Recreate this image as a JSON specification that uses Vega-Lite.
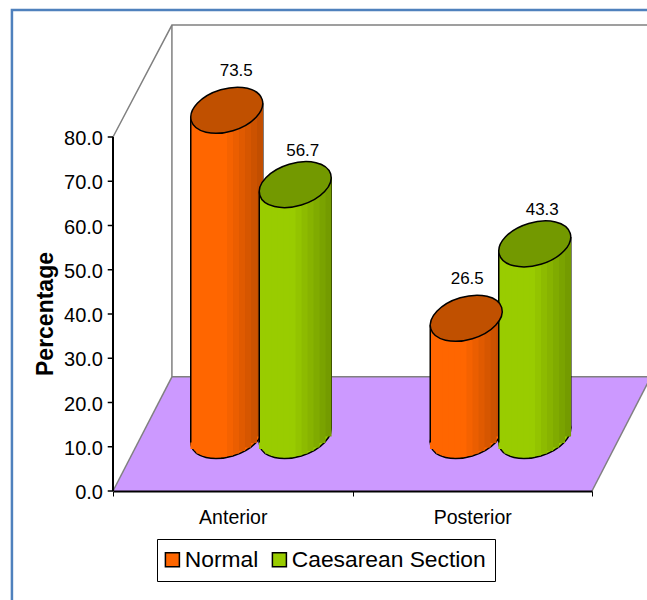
{
"$schema":"https://vega.github.io/schema/vega-lite/v6.json",
"width":479,"height":354,
"autosize":{"type":"none"},
"padding":{"left":113,"top":137,"right":55,"bottom":109},
"background":"white",
"config":{"view":{"stroke":null},"font":"Liberation Sans"},
"datasets":{
"bars":[
{"category":"Anterior","series":"Normal","value":73.5},
{"category":"Anterior","series":"Caesarean Section","value":56.7},
{"category":"Posterior","series":"Normal","value":26.5},
{"category":"Posterior","series":"Caesarean Section","value":43.3}],
"floor":[{"x":0,"y0":0,"y1":0},{"x":12.3,"y0":0,"y1":25.8},{"x":100,"y0":0,"y1":25.8},{"x":112.3,"y0":25.8,"y1":25.8}],
"walls":[
{"p":"a","x":0,"y":80},{"p":"a","x":12.3,"y":105.3},{"p":"a","x":112.3,"y":105.3},
{"p":"b","x":12.3,"y":105.3},{"p":"b","x":12.3,"y":25.8},{"p":"b","x":112.3,"y":25.8},
{"p":"c","x":0,"y":0},{"p":"c","x":12.3,"y":25.8},
{"p":"d","x":100,"y":0},{"p":"d","x":112.3,"y":25.8}],
"frame":[{"x":-21.1,"y":-25},{"x":-21.1,"y":108.7},{"x":112.3,"y":108.7}],
"ticks":[{"tick":0},{"tick":10},{"tick":20},{"tick":30},{"tick":40},{"tick":50},{"tick":60},{"tick":70},{"tick":80}],
"axisTitle":[{"label":"Percentage","pos":40}]
},
"resolve":{"scale":{"x":"independent"},"axis":{"x":"independent"}},
"layer":[
{"layer":[
{"data":{"name":"frame"},"mark":{"type":"line","stroke":"#4f81bd","strokeWidth":2.5},
"encoding":{"x":{"field":"x","type":"quantitative","sort":null,"scale":{"domain":[0,100],"nice":false,"zero":false},"axis":null},
"y":{"field":"y","type":"quantitative","sort":null,"scale":{"domain":[0,80],"nice":false},"axis":null},"order":{"field":"y","sort":"ascending"}}},
{"data":{"name":"floor"},"mark":{"type":"area","fill":"#cc99ff"},
"encoding":{"x":{"field":"x","type":"quantitative","scale":{"domain":[0,100],"nice":false,"zero":false},"axis":null},
"y":{"field":"y0","type":"quantitative","scale":{"domain":[0,80],"nice":false},"axis":null},"y2":{"field":"y1"}}},
{"data":{"name":"walls"},"mark":{"type":"line","stroke":"#808080","strokeWidth":1.5},
"encoding":{"x":{"field":"x","type":"quantitative","scale":{"domain":[0,100],"nice":false,"zero":false},"axis":null},
"y":{"field":"y","type":"quantitative","scale":{"domain":[0,80],"nice":false},"axis":null},"detail":{"field":"p"},"order":{"field":"x"}}},
{"data":{"name":"ticks"},"mark":{"type":"rule","stroke":"black","strokeWidth":1.5},
"encoding":{"x":{"datum":-1.1,"type":"quantitative","scale":{"domain":[0,100],"nice":false,"zero":false},"axis":null},"x2":{"datum":0},
"y":{"field":"tick","type":"quantitative","scale":{"domain":[0,80],"nice":false},"axis":null}}},
{"data":{"name":"ticks"},"mark":{"type":"rule","stroke":"black","strokeWidth":2},
"encoding":{"x":{"datum":0,"type":"quantitative","scale":{"domain":[0,100],"nice":false,"zero":false},"axis":null},
"y":{"datum":0,"type":"quantitative","scale":{"domain":[0,80],"nice":false},"axis":null},"y2":{"datum":80}}},
{"data":{"name":"ticks"},"mark":{"type":"text","align":"right","baseline":"middle","fontSize":20,"color":"black","dy":2},
"encoding":{"x":{"datum":-2.1,"type":"quantitative","scale":{"domain":[0,100],"nice":false,"zero":false},"axis":null},
"y":{"field":"tick","type":"quantitative","scale":{"domain":[0,80],"nice":false},"axis":null},
"text":{"field":"tick","type":"quantitative","format":".1f"}}},
{"data":{"name":"axisTitle"},"mark":{"type":"text","angle":270,"align":"center","baseline":"middle","fontSize":23,"fontWeight":"bold","color":"black"},
"encoding":{"x":{"datum":-14,"type":"quantitative","scale":{"domain":[0,100],"nice":false,"zero":false},"axis":null},
"y":{"field":"pos","type":"quantitative","scale":{"domain":[0,80],"nice":false},"axis":null},
"text":{"field":"label","type":"nominal"}}}
]},
{"data":{"name":"bars"},
"encoding":{
"x":{"field":"category","type":"nominal","scale":{"type":"band","paddingInner":0,"paddingOuter":0},
"axis":{"title":null,"labelAngle":0,"tickBand":"extent","tickSize":5,"tickColor":"black","domainColor":"black","domainWidth":2,"labelFontSize":19.5,"labelColor":"black","labelPadding":12,"labelBaseline":"top","zindex":1}},
"y":{"field":"value","type":"quantitative","scale":{"domain":[0,80],"nice":false},"axis":null}
},
"layer":[
{"mark":{"type":"point","filled":true,"opacity":1,"shape":"M-0.958,0.287A1,0.576,-16.7,1,1,0.958,-0.287A1,0.576,-16.7,1,1,-0.958,0.287Z","size":5476,"stroke":"black","strokeWidth":1.5,"xOffset":{"expr":"datum.series=='Normal'?-6:62.5"},"yOffset":-55.5},
"encoding":{"y":{"datum":0,"type":"quantitative","axis":null},
"fill":{"field":"series","type":"nominal","scale":{"domain":["Normal","Caesarean Section"],"range":["#ff6600","#99cc00"]},
"legend":{"orient":"none","legendX":44,"legendY":402,"direction":"horizontal","columns":2,"title":null,"strokeColor":"black","fillColor":"white","padding":9,"symbolType":"square","symbolSize":196,"symbolStrokeColor":"black","symbolStrokeWidth":1.5,"symbolOpacity":1,"symbolOffset":-5,"labelFontSize":22.8,"labelColor":"black","labelOffset":1,"labelLimit":400,"columnPadding":10}}}},
{"encoding":{"y2":{"datum":0}},"layer":[
{"mark":{"type":"rule","stroke":"black","strokeWidth":1.5,"xOffset":{"expr":"(datum.series=='Normal'?-6:62.5)+36"},"yOffset":-62.5,"y2Offset":-62.5}},
{"mark":{"type":"rule","strokeWidth":6.6,"xOffset":{"expr":"(datum.series=='Normal'?-6:62.5)+33"},"yOffset":-61.9,"y2Offset":-54.5,"stroke":{"expr":"datum.series=='Normal'?'#c24e00':'#749b00'"}}},
{"mark":{"type":"rule","strokeWidth":6.6,"xOffset":{"expr":"(datum.series=='Normal'?-6:62.5)+27"},"yOffset":-60.7,"y2Offset":-47.9,"stroke":{"expr":"datum.series=='Normal'?'#cc5200':'#7aa300'"}}},
{"mark":{"type":"rule","strokeWidth":6.6,"xOffset":{"expr":"(datum.series=='Normal'?-6:62.5)+21"},"yOffset":-59.6,"y2Offset":-43.4,"stroke":{"expr":"datum.series=='Normal'?'#d65600':'#80ab00'"}}},
{"mark":{"type":"rule","strokeWidth":6.6,"xOffset":{"expr":"(datum.series=='Normal'?-6:62.5)+15"},"yOffset":-58.4,"y2Offset":-40.1,"stroke":{"expr":"datum.series=='Normal'?'#e05a00':'#87b300'"}}},
{"mark":{"type":"rule","strokeWidth":6.6,"xOffset":{"expr":"(datum.series=='Normal'?-6:62.5)+9"},"yOffset":-57.2,"y2Offset":-37.6,"stroke":{"expr":"datum.series=='Normal'?'#eb5e00':'#8dbb00'"}}},
{"mark":{"type":"rule","strokeWidth":6.6,"xOffset":{"expr":"(datum.series=='Normal'?-6:62.5)+3"},"yOffset":-56.1,"y2Offset":-35.6,"stroke":{"expr":"datum.series=='Normal'?'#f56200':'#93c400'"}}},
{"mark":{"type":"rule","strokeWidth":6.6,"xOffset":{"expr":"(datum.series=='Normal'?-6:62.5)-3"},"yOffset":-54.9,"y2Offset":-34.4,"stroke":{"expr":"datum.series=='Normal'?'#ff6600':'#99cc00'"}}},
{"mark":{"type":"rule","strokeWidth":6.6,"xOffset":{"expr":"(datum.series=='Normal'?-6:62.5)-9"},"yOffset":-53.8,"y2Offset":-33.8,"stroke":{"expr":"datum.series=='Normal'?'#ff6600':'#99cc00'"}}},
{"mark":{"type":"rule","strokeWidth":6.6,"xOffset":{"expr":"(datum.series=='Normal'?-6:62.5)-15"},"yOffset":-52.6,"y2Offset":-34.1,"stroke":{"expr":"datum.series=='Normal'?'#ff6600':'#99cc00'"}}},
{"mark":{"type":"rule","strokeWidth":6.6,"xOffset":{"expr":"(datum.series=='Normal'?-6:62.5)-21"},"yOffset":-51.4,"y2Offset":-35.2,"stroke":{"expr":"datum.series=='Normal'?'#ff6600':'#99cc00'"}}},
{"mark":{"type":"rule","strokeWidth":6.6,"xOffset":{"expr":"(datum.series=='Normal'?-6:62.5)-27"},"yOffset":-50.3,"y2Offset":-37.6,"stroke":{"expr":"datum.series=='Normal'?'#ff6600':'#99cc00'"}}},
{"mark":{"type":"rule","strokeWidth":6.6,"xOffset":{"expr":"(datum.series=='Normal'?-6:62.5)-33"},"yOffset":-49.1,"y2Offset":-42,"stroke":{"expr":"datum.series=='Normal'?'#ff6600':'#99cc00'"}}},
{"mark":{"type":"rule","stroke":"black","strokeWidth":1.5,"xOffset":{"expr":"(datum.series=='Normal'?-6:62.5)-36"},"yOffset":-48.5,"y2Offset":-48.5}}
]},
{"mark":{"type":"point","filled":true,"opacity":1,"shape":"M-0.958,0.287A1,0.576,-16.7,1,1,0.958,-0.287A1,0.576,-16.7,1,1,-0.958,0.287Z","size":5476,"stroke":"black","strokeWidth":1.5,"xOffset":{"expr":"datum.series=='Normal'?-6:62.5"},"yOffset":-55.5,"fill":{"expr":"datum.series=='Normal'?'#c05000':'#739900'"}}},
{"mark":{"type":"text","fontSize":17,"color":"black","xOffset":{"expr":"datum.series=='Normal'?(datum.category=='Anterior'?3.5:-5):70"},"yOffset":{"expr":"datum.series=='Normal'?-95:-89"}},
"encoding":{"text":{"field":"value","type":"quantitative","format":".1f"}}}
]}
]}
